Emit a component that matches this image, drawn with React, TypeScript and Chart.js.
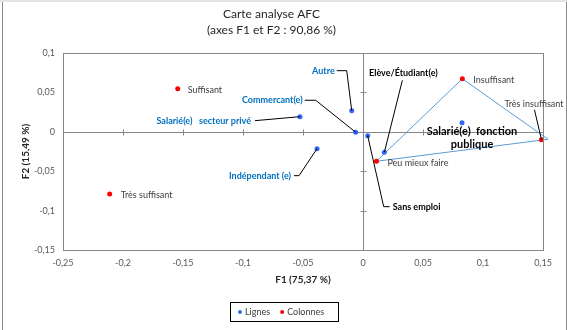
import { useEffect, useRef } from "react";
import { Chart, registerables } from "chart.js";

Chart.register(...registerables);

// ---- Data ----
const rowLabels = [
  "Salarié(e)   secteur privé",
  "Autre",
  "Commercant(e)",
  "Indépendant (e)",
  "Sans emploi",
  "Elève/Étudiant(e)",
  "Salarié(e)  fonction|publique",
];
const rowF1 = [-0.0525, -0.0094, -0.0061, -0.0383, 0.0039, 0.0178, 0.0825];
const rowF2 = [0.0192, 0.0268, -0.0006, -0.0214, -0.0049, -0.026, 0.0115];

const colLabels = ["Très suffisant", "Suffisant", "Peu mieux faire", "Insuffisant", "Très insuffisant"];
const colF1 = [-0.2111, -0.1544, 0.0112, 0.0828, 0.1487];
const colF2 = [-0.0788, 0.0545, -0.0374, 0.0673, -0.01];

// hand-drawn triangle around the "insufficient" group
const hullF1 = [0.0112, 0.0828, 0.1542, 0.0112];
const hullF2 = [-0.0374, 0.0673, -0.0095, -0.0374];

const xTickValues = [-0.25, -0.2, -0.15, -0.1, -0.05, 0, 0.05, 0.1, 0.15];
const yTickValues = [-0.15, -0.1, -0.05, 0, 0.05, 0.1];

const seriesNames = ["Lignes", "Colonnes"];
const titleLines = ["Carte analyse AFC", "(axes F1 et F2 : 90,86 %)"];
const xTitle = "F1 (75,37 %)";
const yTitle = "F2 (15,49 %)";

// ---- Styles ----
const FONT = "Lato, 'Open Sans', sans-serif";
const BLUE = "#3366ff";
const RED = "#ff0000";
const LABEL_BLUE = "#0070c0";
const AXIS_GRAY = "#868686";

type Note = {
  dx: number;
  dy: number;
  align: CanvasTextAlign;
  color: string;
  bold: boolean;
  size: number;
  leader?: [number, number][];
};

// label placement offsets (pixels, relative to each point)
const rowNotes: Note[] = [
  { dx: -49, dy: 4, align: "right", color: LABEL_BLUE, bold: true, size: 9, leader: [[-45, 4]] },
  { dx: -17, dy: -40, align: "right", color: LABEL_BLUE, bold: true, size: 9, leader: [[-15, -40], [-5, -40]] },
  { dx: -53, dy: -32, align: "right", color: LABEL_BLUE, bold: true, size: 9, leader: [[-51, -32], [-40, -32]] },
  { dx: -26, dy: 27, align: "right", color: LABEL_BLUE, bold: true, size: 9, leader: [[-23, 27], [-18, 27]] },
  { dx: 25, dy: 71, align: "left", color: "#000", bold: true, size: 9, leader: [[22, 71], [16, 71]] },
  { dx: 19, dy: -79, align: "center", color: "#000", bold: true, size: 9, leader: [[18, -72]] },
  { dx: 10, dy: 9, align: "center", color: "#000", bold: true, size: 11 },
];
const colNotes: Note[] = [
  { dx: 11, dy: 1, align: "left", color: "#404040", bold: false, size: 9 },
  { dx: 10, dy: 1, align: "left", color: "#404040", bold: false, size: 9 },
  { dx: 11, dy: 2, align: "left", color: "#404040", bold: false, size: 9 },
  { dx: 11, dy: 1, align: "left", color: "#404040", bold: false, size: 9 },
  { dx: -37, dy: -36, align: "left", color: "#404040", bold: false, size: 9, leader: [[-7, -30]] },
];

const fmt = (v: number) => {
  const r = Math.round(v * 100) / 100;
  return String(r).replace(".", ",");
};

const crisp = (v: number) => Math.round(v) + 0.5;

const axesPlugin = {
  id: "afcAxes",
  beforeDatasetsDraw(chart: any) {
    const { ctx, chartArea: a, scales } = chart;
    const x = scales.x;
    const y = scales.y;
    ctx.save();
    ctx.strokeStyle = AXIS_GRAY;
    ctx.lineWidth = 1;
    const line = (x1: number, y1: number, x2: number, y2: number) => {
      ctx.beginPath();
      ctx.moveTo(x1, y1);
      ctx.lineTo(x2, y2);
      ctx.stroke();
    };
    const L = crisp(a.left), R = crisp(a.right), T = crisp(a.top), B = crisp(a.bottom);
    ctx.strokeRect(L, T, R - L, B - T);
    const x0 = crisp(x.getPixelForValue(0));
    const y0 = crisp(y.getPixelForValue(0));
    line(L, y0, R, y0);
    line(x0, T, x0, B);
    x.ticks.forEach((t: any) => {
      const px = crisp(x.getPixelForValue(t.value));
      line(px, y0 - 3, px, y0 + 3);
    });
    y.ticks.forEach((t: any) => {
      const py = crisp(y.getPixelForValue(t.value));
      line(x0 - 3, py, x0 + 3, py);
    });
    ctx.restore();
  },
};

const notesPlugin = {
  id: "afcNotes",
  afterDatasetsDraw(chart: any) {
    const { ctx } = chart;
    const groups: [number, string[], Note[]][] = [
      [0, rowLabels, rowNotes],
      [1, colLabels, colNotes],
    ];
    ctx.save();
    groups.forEach(([di, labels, notes]) => {
      const meta = chart.getDatasetMeta(di);
      meta.data.forEach((el: any, i: number) => {
        const n = notes[i];
        if (!n) return;
        const px = el.x;
        const py = el.y;
        if (n.leader) {
          ctx.strokeStyle = "#000";
          ctx.lineWidth = 1;
          ctx.beginPath();
          n.leader.forEach(([lx, ly], k) => {
            if (k === 0) ctx.moveTo(px + lx, py + ly);
            else ctx.lineTo(px + lx, py + ly);
          });
          ctx.lineTo(px, py);
          ctx.stroke();
        }
        ctx.fillStyle = n.color;
        ctx.font = `${n.bold ? "bold " : ""}${n.size}px ${FONT}`;
        ctx.textAlign = n.align;
        ctx.textBaseline = "middle";
        const lines = labels[i].split("|");
        lines.forEach((ln, k) => {
          ctx.fillText(ln, px + n.dx, py + n.dy + k * (n.size + 2));
        });
      });
    });
    ctx.restore();
  },
  afterDraw(chart: any) {
    const { ctx } = chart;
    const cx = 284;
    const w = 108;
    const top = 302;
    const h = 19;
    ctx.save();
    ctx.fillStyle = "#fff";
    ctx.fillRect(cx - w / 2, top, w, h);
    ctx.strokeStyle = "#000";
    ctx.lineWidth = 1;
    ctx.strokeRect(crisp(cx - w / 2), crisp(top), w, h);
    ctx.font = `9px ${FONT}`;
    ctx.textBaseline = "middle";
    ctx.textAlign = "left";
    const ym = top + h / 2 + 0.5;
    let xx = cx - w / 2 + 10;
    chart.data.datasets.slice(0, 2).forEach((ds: any) => {
      ctx.fillStyle = ds.backgroundColor;
      ctx.beginPath();
      ctx.arc(xx, ym, 2, 0, Math.PI * 2);
      ctx.fill();
      ctx.fillStyle = "#404040";
      ctx.fillText(ds.label, xx + 5, ym);
      xx += 5 + ctx.measureText(ds.label).width + 12;
    });
    ctx.restore();
  },
};

export default function App() {
  const ref = useRef<HTMLCanvasElement | null>(null);

  useEffect(() => {
    if (!ref.current) return;
    const chart = new Chart(ref.current, {
      type: "scatter",
      data: {
        datasets: [
          {
            label: seriesNames[0],
            data: rowF1.map((v, i) => ({ x: v, y: rowF2[i] })),
            backgroundColor: BLUE,
            borderColor: BLUE,
            pointRadius: 2.5,
            pointBorderWidth: 0,
          },
          {
            label: seriesNames[1],
            data: colF1.map((v, i) => ({ x: v, y: colF2[i] })),
            backgroundColor: RED,
            borderColor: RED,
            pointRadius: 2.5,
            pointBorderWidth: 0,
          },
          {
            label: "hull",
            data: hullF1.map((v, i) => ({ x: v, y: hullF2[i] })),
            showLine: true,
            borderColor: "#5b9bd5",
            borderWidth: 1,
            pointRadius: 0,
            backgroundColor: "transparent",
            clip: false,
            order: 5,
          } as any,
        ],
      },
      options: {
        responsive: false,
        animation: false,
        events: [],
        layout: { padding: { left: 0, right: 24, top: 0, bottom: 40 } },
        plugins: {
          legend: { display: false },
          tooltip: { enabled: false },
          title: {
            display: true,
            text: titleLines,
            color: "#262626",
            font: { family: FONT, size: 12, weight: "normal", lineHeight: 16 / 12 },
            padding: { top: 6, bottom: 15 },
          },
        },
        scales: {
          x: {
            type: "linear",
            min: xTickValues[0],
            max: xTickValues[xTickValues.length - 1],
            afterBuildTicks: (s: any) => {
              s.ticks = xTickValues.map((v) => ({ value: v }));
            },
            afterFit: (s: any) => {
              s.height = 40;
            },
            grid: { display: false, drawTicks: false },
            border: { display: false },
            ticks: {
              padding: 8,
              color: "#595959",
              font: { family: FONT, size: 9 },
              callback: (v: any) => fmt(Number(v)),
              maxRotation: 0,
              autoSkip: false,
            },
            title: {
              display: true,
              text: xTitle,
              color: "#262626",
              font: { family: FONT, size: 10, weight: "bold", lineHeight: 1.2 },
              padding: { top: 0, bottom: 4 },
            },
          },
          y: {
            type: "linear",
            min: yTickValues[0],
            max: yTickValues[yTickValues.length - 1],
            afterBuildTicks: (s: any) => {
              s.ticks = yTickValues.map((v) => ({ value: v }));
            },
            afterFit: (s: any) => {
              s.width = 63;
            },
            grid: { display: false, drawTicks: false },
            border: { display: false },
            ticks: {
              padding: 8,
              color: "#595959",
              font: { family: FONT, size: 9 },
              callback: (v: any) => fmt(Number(v)),
              autoSkip: false,
            },
            title: {
              display: true,
              text: yTitle,
              color: "#262626",
              font: { family: FONT, size: 10, weight: "bold", lineHeight: 1.2 },
              padding: { top: 20, bottom: 0 },
            },
          },
        },
      },
      plugins: [axesPlugin, notesPlugin],
    });
    return () => chart.destroy();
  }, []);

  return (
    <div
      style={{
        position: "fixed",
        left: 0,
        top: 0,
        width: 567,
        height: 330,
        overflow: "hidden",
        background: "#fff",
      }}
    >
      <div
        style={{
          position: "absolute",
          left: 0,
          top: 0,
          width: 567,
          height: 2,
          background: "#e3e3e3",
        }}
      />
      <div
        style={{
          position: "absolute",
          left: 2,
          top: 2,
          width: 563,
          height: 400,
          borderLeft: "1px solid #8c8c8c",
          borderRight: "1px solid #8c8c8c",
        }}
      />
      <canvas
        ref={ref}
        width={567}
        height={330}
        style={{ position: "absolute", left: 0, top: 0, width: 567, height: 330 }}
      />
    </div>
  );
}
